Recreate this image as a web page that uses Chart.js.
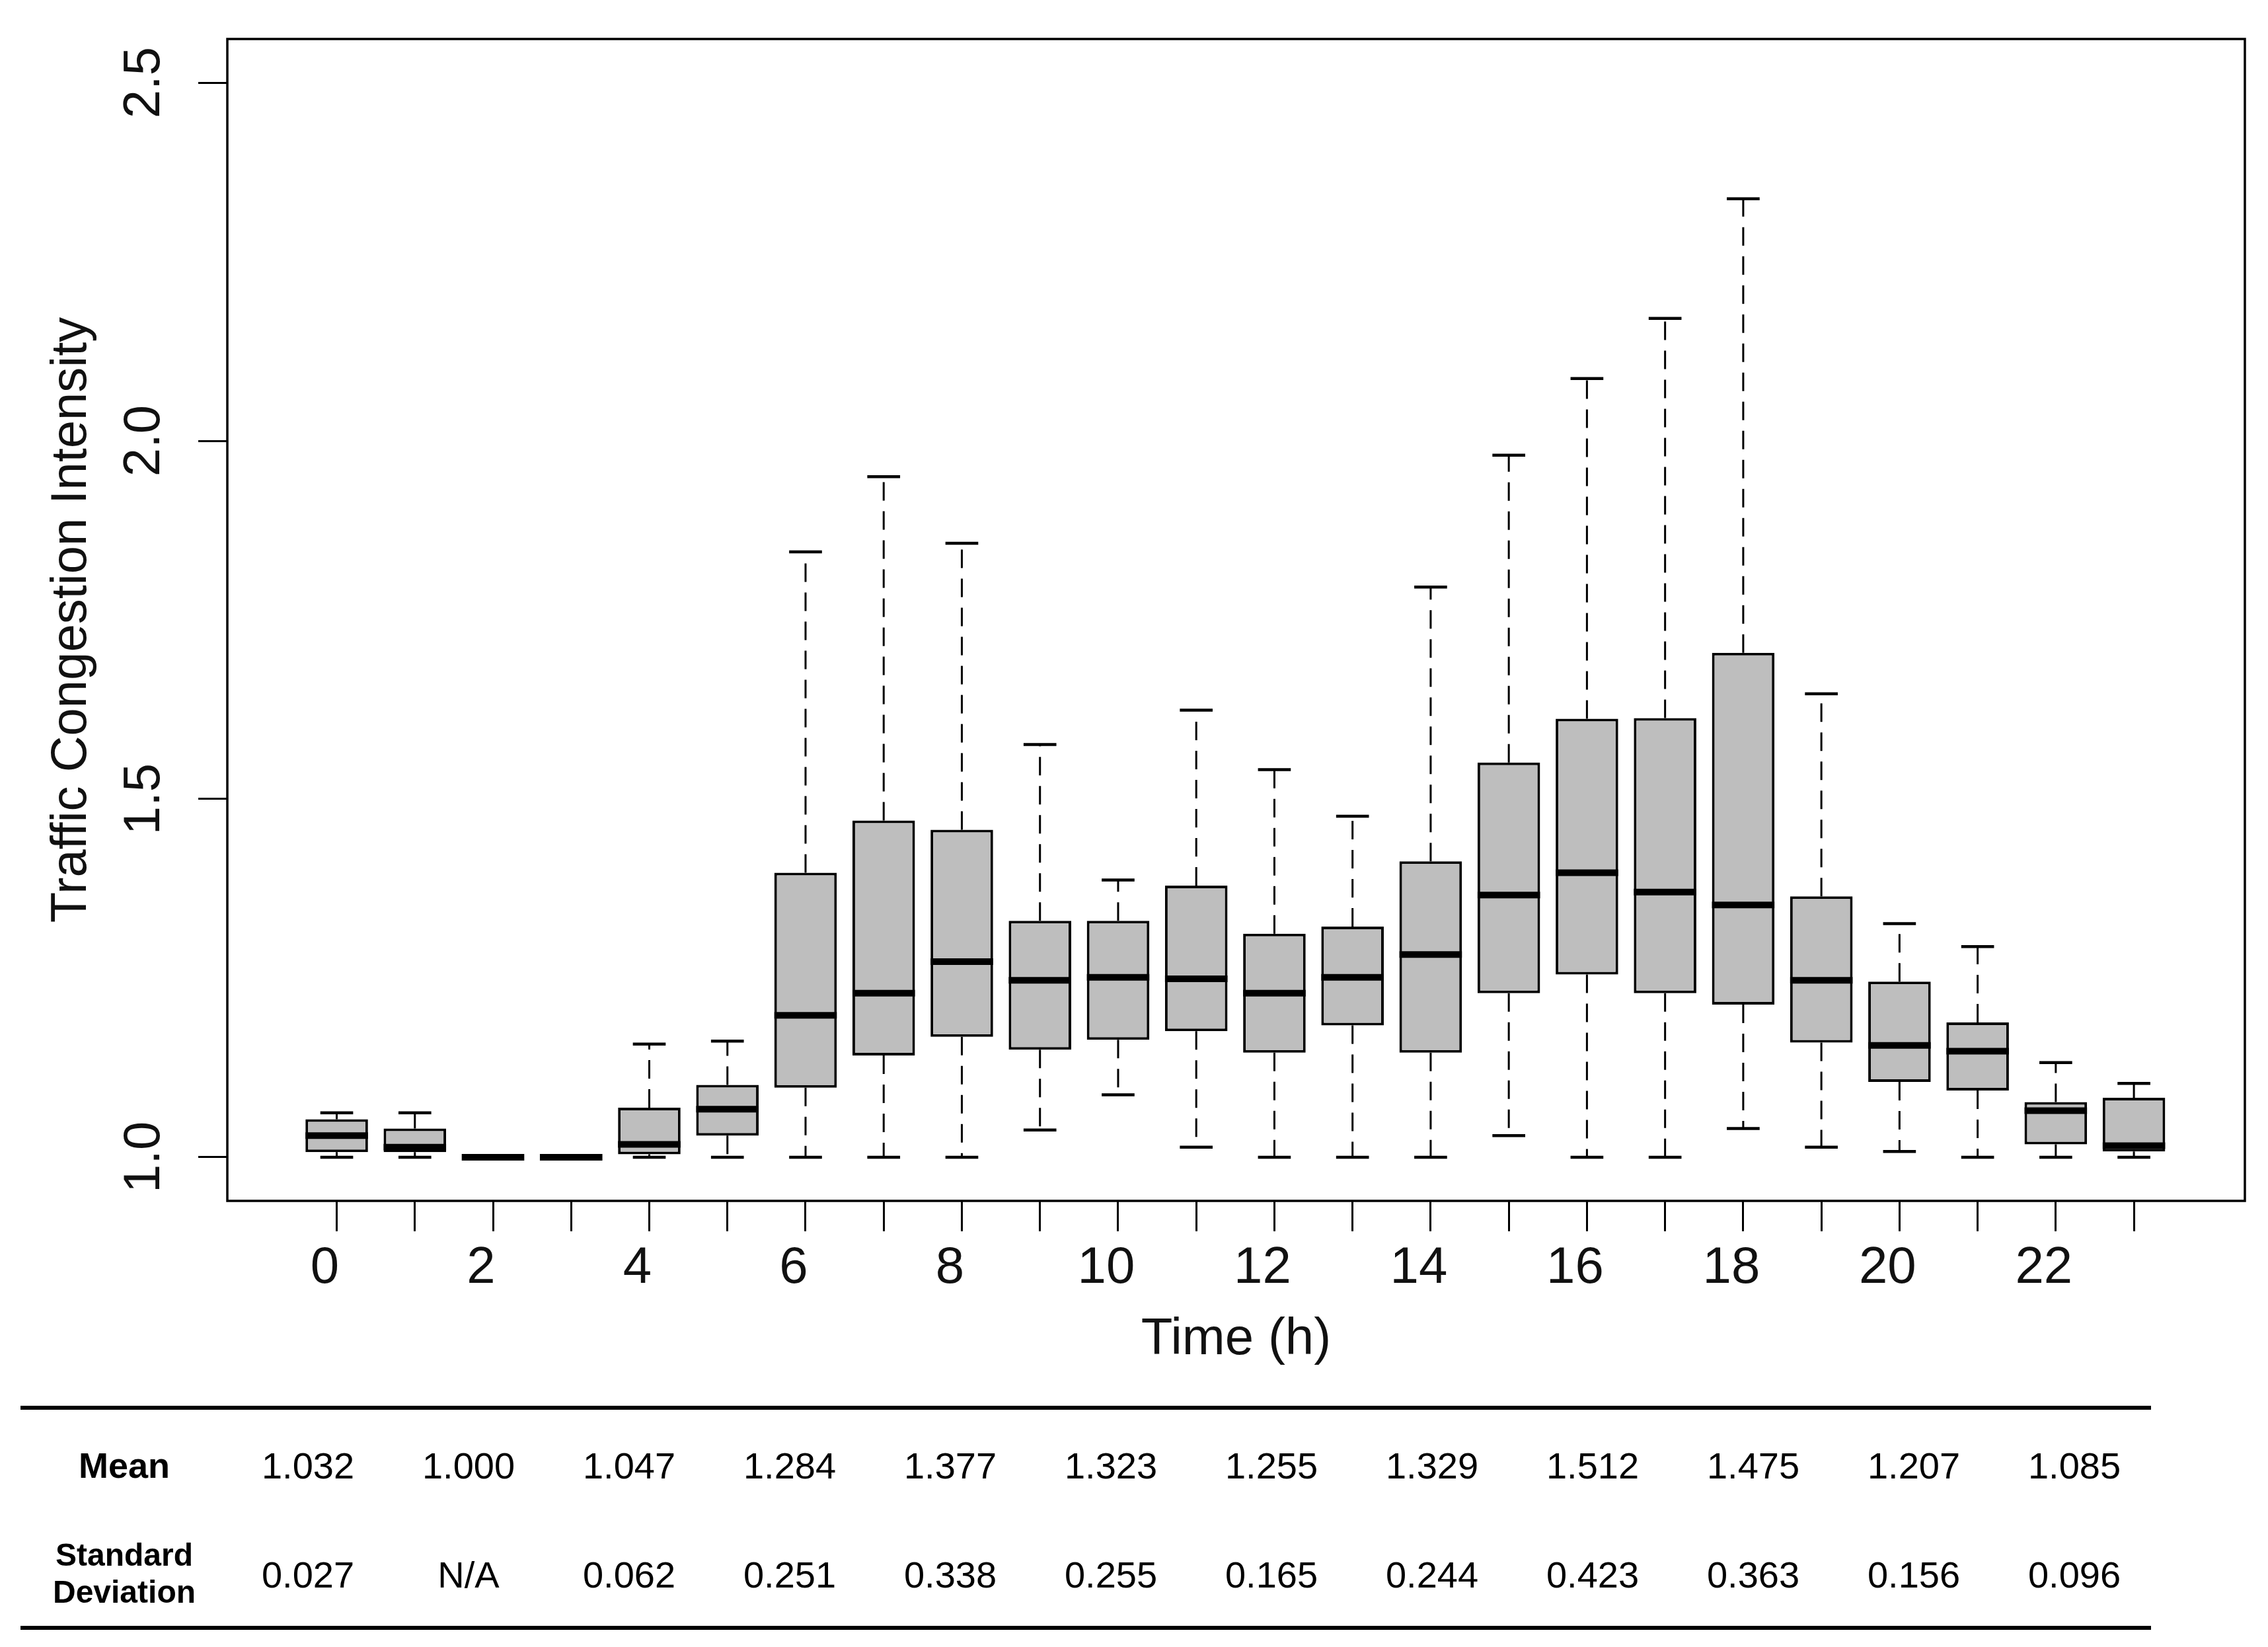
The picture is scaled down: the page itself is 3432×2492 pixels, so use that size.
<!DOCTYPE html>
<html>
<head>
<meta charset="utf-8">
<script src="https://cdn.jsdelivr.net/npm/chart.js@4.4.1/dist/chart.umd.min.js"></script>
<style>
  html, body { margin: 0; padding: 0; background: #fff; }
  #wrap { position: relative; width: 3432px; height: 2492px; }
  #chart { position: absolute; left: 0; top: 0; }
  .rule { position: absolute; left: 31px; width: 3224px; height: 6px; background: #000; }
  .cell { position: absolute; transform: translate(-50%, -50%); white-space: nowrap; color: #000;
          font-family: "Liberation Sans", Arial, sans-serif; text-align: center; }
  .val { font-size: 56px; }
  .head { font-weight: bold; font-size: 54px; }
  .head2 { font-weight: bold; font-size: 48px; line-height: 56px; }
</style>
</head>
<body>
<div id="wrap">
  <canvas id="chart" width="3432" height="2492" style="width:3432px;height:2492px"></canvas>
</div>
<script>
// hours of the day, one box per hour
const hours = [0,1,2,3,4,5,6,7,8,9,10,11,12,13,14,15,16,17,18,19,20,21,22,23];

// box plot statistics
const whiskerLow  = [1.000,1.000,1.000,1.000,1.000,1.000,1.000,1.000,1.000,1.038,1.087,1.014,1.000,1.000,1.000,1.030,1.000,1.000,1.040,1.014,1.008,1.000,1.000,1.000];
const q1          = [1.007,1.007,1.000,1.000,1.004,1.030,1.097,1.142,1.168,1.150,1.164,1.176,1.146,1.184,1.146,1.229,1.255,1.229,1.213,1.160,1.105,1.093,1.018,1.008];
const median      = [1.030,1.014,1.000,1.000,1.018,1.067,1.198,1.229,1.273,1.247,1.251,1.249,1.229,1.251,1.283,1.366,1.397,1.370,1.352,1.247,1.156,1.148,1.065,1.016];
const q3          = [1.053,1.040,1.000,1.000,1.069,1.101,1.397,1.470,1.457,1.330,1.330,1.379,1.312,1.322,1.413,1.551,1.612,1.613,1.704,1.364,1.245,1.188,1.077,1.083];
const whiskerHigh = [1.062,1.062,1.000,1.000,1.158,1.162,1.845,1.950,1.857,1.576,1.387,1.624,1.541,1.476,1.796,1.980,2.087,2.171,2.338,1.647,1.326,1.294,1.132,1.103];

const yTicks = [1.0, 1.5, 2.0, 2.5];

// summary table under the chart
const tableHeads = ['Mean', 'Standard\nDeviation'];
const meanValues = [1.032,1.000,1.047,1.284,1.377,1.323,1.255,1.329,1.512,1.475,1.207,1.085];
const sdValues   = [0.027,null,0.062,0.251,0.338,0.255,0.165,0.244,0.423,0.363,0.156,0.096];

const FONT = '"Liberation Sans", Arial, sans-serif';

const boxExtras = {
  id: 'boxExtras',
  afterDatasetsDraw(chart) {
    const {ctx, chartArea, scales: {x, y}} = chart;
    ctx.save();
    ctx.strokeStyle = '#000';
    hours.forEach((h, i) => {
      const cx = x.getPixelForValue(h);
      const boxHalf = x.getPixelForValue(h + 0.4) - cx;
      const capHalf = x.getPixelForValue(h + 0.21) - cx;
      // dashed whiskers
      ctx.setLineDash([28, 16]);
      ctx.lineWidth = 3;
      ctx.beginPath();
      ctx.moveTo(cx, y.getPixelForValue(q3[i]));
      ctx.lineTo(cx, y.getPixelForValue(whiskerHigh[i]));
      ctx.moveTo(cx, y.getPixelForValue(q1[i]));
      ctx.lineTo(cx, y.getPixelForValue(whiskerLow[i]));
      ctx.stroke();
      ctx.setLineDash([]);
      // staples
      ctx.lineWidth = 4.5;
      ctx.beginPath();
      [whiskerHigh[i], whiskerLow[i]].forEach(v => {
        const py = y.getPixelForValue(v);
        ctx.moveTo(cx - capHalf, py);
        ctx.lineTo(cx + capHalf, py);
      });
      ctx.stroke();
      // median
      ctx.lineWidth = 10;
      ctx.beginPath();
      const my = y.getPixelForValue(median[i]);
      ctx.moveTo(cx - boxHalf, my);
      ctx.lineTo(cx + boxHalf, my);
      ctx.stroke();
    });
    // plot frame
    ctx.lineWidth = 3.5;
    ctx.strokeRect(chartArea.left, chartArea.top, chartArea.right - chartArea.left, chartArea.bottom - chartArea.top);
    // rotated y tick labels (R style)
    ctx.fillStyle = '#111';
    ctx.font = '78px ' + FONT;
    ctx.textAlign = 'center';
    ctx.textBaseline = 'middle';
    yTicks.forEach(v => {
      ctx.save();
      ctx.translate(219, y.getPixelForValue(v));
      ctx.rotate(-Math.PI / 2);
      ctx.fillText(v.toFixed(1), 0, 0);
      ctx.restore();
    });
    ctx.restore();
  }
};

new Chart(document.getElementById('chart'), {
  type: 'bar',
  data: {
    datasets: [{
      data: hours.map((h, i) => ({x: h, y: [q1[i], q3[i]]})),
      backgroundColor: '#BEBEBE',
      borderColor: '#000',
      borderWidth: 4,
      borderSkipped: false,
      barPercentage: 0.8,
      categoryPercentage: 1.0
    }]
  },
  options: {
    responsive: false,
    devicePixelRatio: 1,
    animation: false,
    layout: {padding: {left: 0, top: 59, right: 35, bottom: 0}},
    plugins: {legend: {display: false}, tooltip: {enabled: false}},
    scales: {
      x: {
        type: 'linear',
        min: -1.40,
        max: 24.42,
        offset: false,
        afterBuildTicks: (scale) => { scale.ticks = hours.map(h => ({value: h})); },
        afterFit: (scale) => { scale.height = 675; },
        grid: {offset: false, drawOnChartArea: false, drawTicks: true, tickLength: 46, tickWidth: 3, tickColor: '#000', color: '#000'},
        border: {display: false},
        ticks: {
          autoSkip: false, maxRotation: 0, minRotation: 0, padding: 10, labelOffset: -18,
          color: '#111', font: {family: FONT, size: 78},
          callback: (v) => (v % 2 === 0 ? String(v) : '')
        },
        title: {display: true, text: 'Time (h)', color: '#111', font: {family: FONT, size: 78}, padding: {top: 0, bottom: 418}}
      },
      y: {
        min: 0.939,
        max: 2.561,
        afterBuildTicks: (scale) => { scale.ticks = yTicks.map(v => ({value: v})); },
        afterFit: (scale) => { scale.width = 344; },
        grid: {drawOnChartArea: false, drawTicks: true, tickLength: 44, tickWidth: 3, tickColor: '#000', color: '#000'},
        border: {display: false},
        ticks: {display: false},
        title: {display: true, text: 'Traffic Congestion Intensity', color: '#111', font: {family: FONT, size: 76}, padding: {top: 63, bottom: 0}}
      }
    }
  },
  plugins: [boxExtras]
});

// table below the plot
const wrap = document.getElementById('wrap');
function addCell(text, cls, cx, cy) {
  const d = document.createElement('div');
  d.className = 'cell ' + cls;
  d.style.left = cx + 'px';
  d.style.top = cy + 'px';
  d.innerHTML = text.replace('\n', '<br>');
  wrap.appendChild(d);
}
[2130, 2463].forEach(top => {
  const r = document.createElement('div');
  r.className = 'rule';
  r.style.top = (top - 3) + 'px';
  wrap.appendChild(r);
});
addCell(tableHeads[0], 'head', 188, 2217);
addCell(tableHeads[1], 'head2', 188, 2381);
meanValues.forEach((v, i) => addCell(v.toFixed(3), 'val', 466 + 243 * i, 2217));
sdValues.forEach((v, i) => addCell(v === null ? 'N/A' : v.toFixed(3), 'val', 466 + 243 * i, 2382));
</script>
</body>
</html>
